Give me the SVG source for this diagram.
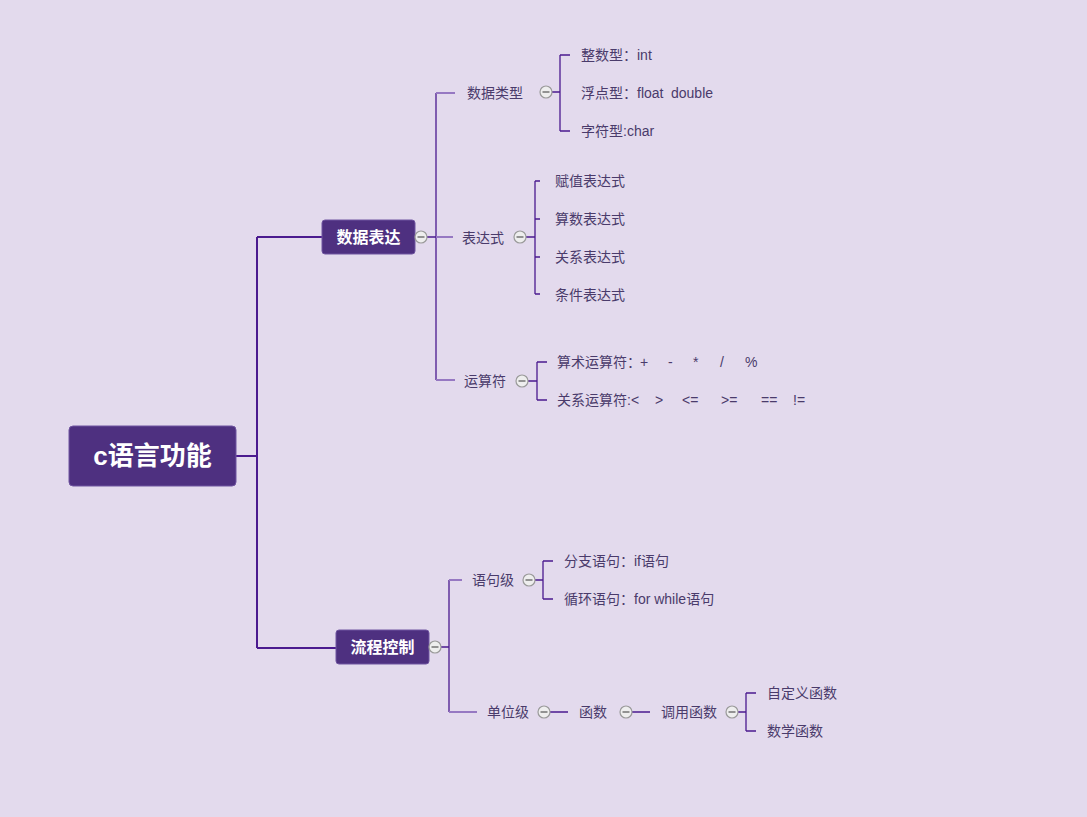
<svg xmlns="http://www.w3.org/2000/svg" width="1087" height="817" viewBox="0 0 1087 817">
<style>
text{font-family:"Liberation Sans","Noto Sans CJK SC",sans-serif;dominant-baseline:central}
.t{font-size:14px;fill:#4a3b6b}
.b{fill:#ffffff;font-weight:bold;text-anchor:middle}
.box{fill:#4e3080;stroke:#6f54a0;stroke-width:1}
.c{fill:none;stroke:#4b1a8f;stroke-width:1.3}
.c2{fill:none;stroke:#4b1a8f;stroke-width:2}
.l{fill:none;stroke:#9678c2;stroke-width:2}
</style>
<defs>
<g id="minus"><circle cx="0" cy="0" r="6" fill="#eeeeee" stroke="#9a9a9a" stroke-width="1.2"/><line x1="-3.5" y1="0" x2="3.5" y2="0" stroke="#555555" stroke-width="1.2"/></g>
</defs>
<rect width="1087" height="817" fill="#e3daed"/>
<g id="connectors">
<path class="c2" d="M236 456H257M257 237V648M257 237H322M257 648H336"/>
<path class="c" d="M427 237H436M436 93V380"/>
<path class="l" d="M436 93H455M436 237H453M436 380H455"/>
<path class="c" d="M552 92H560M560 55V131M560 55H570M560 131H570"/>
<path class="c" d="M526 237H535M535 181V294M535 181H540M535 219H540M535 257H540M535 294H540"/>
<path class="c" d="M528 381H537M537 362V400M537 362H547M537 400H547"/>
<path class="c" d="M441 647H449M449 580V712"/>
<path class="l" d="M449 580H462M449 712H477"/>
<path class="c" d="M535 580H543M543 561V599M543 561H553M543 599H553"/>
<path class="c" d="M550 712H568M632 712H650M738 712H746M746 693V731M746 693H756M746 731H756"/>
</g>
<g id="root"><rect class="box" x="69" y="426" width="167" height="60" rx="4"/><text class="b" x="152.5" y="456" font-size="26">c语言功能</text></g>
<g id="n-shuju"><rect class="box" x="322" y="220" width="93" height="34" rx="3"/><text class="b" x="368.5" y="237" font-size="16">数据表达</text></g>
<g id="n-liucheng"><rect class="box" x="336" y="630" width="93" height="34" rx="3"/><text class="b" x="382.5" y="647" font-size="16">流程控制</text></g>
<g id="n-leixing"><text class="t" x="467" y="93">数据类型</text></g>
<g id="n-int"><text class="t" x="581" y="55">整数型：int</text></g>
<g id="n-float"><text class="t" x="581" y="93">浮点型：float<tspan x="671">double</tspan></text></g>
<g id="n-char"><text class="t" x="581" y="131">字符型:char</text></g>
<g id="n-biaodashi"><text class="t" x="462" y="238">表达式</text></g>
<g id="n-fuzhi"><text class="t" x="555" y="181">赋值表达式</text></g>
<g id="n-suanshu"><text class="t" x="555" y="219">算数表达式</text></g>
<g id="n-guanxi"><text class="t" x="555" y="257">关系表达式</text></g>
<g id="n-tiaojian"><text class="t" x="555" y="295">条件表达式</text></g>
<g id="n-yunsuanfu"><text class="t" x="464" y="381">运算符</text></g>
<g id="n-suanshuys"><text class="t" x="557" y="362">算术运算符：<tspan x="640">+</tspan><tspan x="668">-</tspan><tspan x="693">*</tspan><tspan x="720">/</tspan><tspan x="745">%</tspan></text></g>
<g id="n-guanxiys"><text class="t" x="557" y="400">关系运算符:&lt;<tspan x="655">&gt;</tspan><tspan x="682">&lt;=</tspan><tspan x="721">&gt;=</tspan><tspan x="761">==</tspan><tspan x="793">!=</tspan></text></g>
<g id="n-yujuji"><text class="t" x="472" y="580">语句级</text></g>
<g id="n-fenzhi"><text class="t" x="564" y="561">分支语句：if语句</text></g>
<g id="n-xunhuan"><text class="t" x="564" y="599">循环语句：for while语句</text></g>
<g id="n-danweiji"><text class="t" x="487" y="712">单位级</text></g>
<g id="n-hanshu"><text class="t" x="579" y="712">函数</text></g>
<g id="n-diaoyong"><text class="t" x="661" y="712">调用函数</text></g>
<g id="n-zidingyi"><text class="t" x="767" y="693">自定义函数</text></g>
<g id="n-shuxue"><text class="t" x="767" y="731">数学函数</text></g>
<g id="toggles">
<use href="#minus" x="421" y="237"/>
<use href="#minus" x="546" y="92"/>
<use href="#minus" x="520" y="237"/>
<use href="#minus" x="522" y="381"/>
<use href="#minus" x="435" y="647"/>
<use href="#minus" x="529" y="580"/>
<use href="#minus" x="544" y="712"/>
<use href="#minus" x="626" y="712"/>
<use href="#minus" x="732" y="712"/>
</g>
</svg>
